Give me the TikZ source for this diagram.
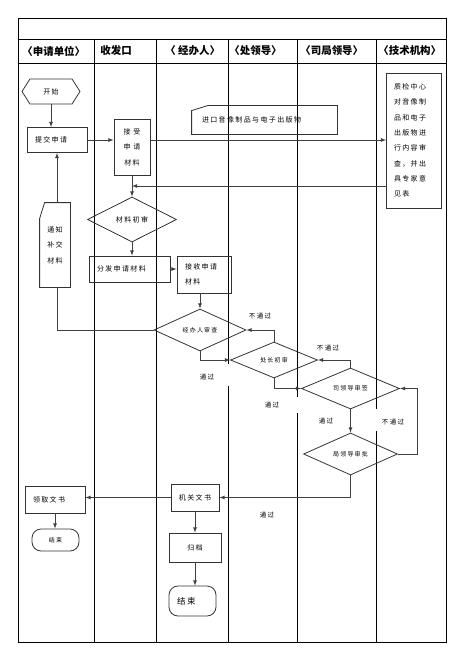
\documentclass[tikz,border=0pt]{standalone}
\usepackage{fontspec}
\usepackage{tikz}
\usetikzlibrary{calc}                      %allows coordinate calculations.
\usetikzlibrary{shapes.geometric}          %allows diamond nodes.
\usetikzlibrary{shapes.symbols}            %allows the signal (start) node.

\newfontfamily\cjk{Noto Sans CJK SC}
\newfontfamily\cjksp{Noto Sans CJK SC}[LetterSpace=20]

\begin{document}
\begin{tikzpicture}[x=1bp,y=-1bp,thick,>=latex,
  txt/.style={font=\cjksp\fontsize{7}{15.4}\selectfont},
  flowbox/.style={txt,draw=black!80,rectangle,inner sep=0pt},
  decide/.style={diamond,aspect=2.5,draw=black!80,inner sep=0pt,font=\cjksp\fontsize{6}{8}\selectfont},
  endbox/.style={txt,draw=black!80,rounded corners=9bp,inner sep=0pt},
  passlbl/.style={font=\cjksp\fontsize{6.5}{8}\selectfont,inner sep=1bp},
  lanehead/.style={font=\cjk\bfseries\fontsize{10.5}{12}\selectfont,anchor=west,inner sep=0pt}]

% Define frame and lane positions (pixels of the page).
\def\fl{18}      %Left edge of frame.
\def\fr{446}     %Right edge of frame.
\def\ft{18}      %Top edge of frame.
\def\fb{642}     %Bottom edge of frame.
\def\hy{39}      %Top of lane header row.
\def\by{63}      %Bottom of lane header row.

\useasboundingbox (0,0) rectangle (458,666);

% Frame, header rows and lanes.
\draw (\fl,\ft) rectangle (\fr,\fb);
\draw (\fl,\hy) -- (\fr,\hy);
\draw (\fl,\by) -- (\fr,\by);
\foreach \lx in {94,156}
  \draw (\lx,\hy) -- (\lx,\fb);
\draw (228,\hy) -- (228,364) (228,386) -- (228,\fb);
\draw (297,\hy) -- (297,397) (297,413) -- (297,\fb);
\draw (376,\hy) -- (376,409) (376,431) -- (376,\fb);

% Lane titles.
\node[lanehead] (hA) at (22,51) {〈申请单位〉};
\node[lanehead] (hB) at (100,51) {收发口};
\node[lanehead] (hC) at (165,51) {〈 经办人〉};
\node[lanehead] (hD) at (229,51) {〈处领导〉};
\node[lanehead] (hE) at (300,51) {〈司局领导〉};
\node[lanehead] (hF) at (378,51) {〈技术机构〉};

% Steps.
\node[signal,signal to=west and east,signal pointer angle=115,draw=black!80,minimum width=58bp,minimum height=25bp,inner sep=0pt,font=\cjksp\fontsize{7}{8}\selectfont] (start) at (51,91.5) {开始};
\node[flowbox,minimum width=60bp,minimum height=25bp,text width=44bp,inner xsep=8bp,align=left] (submit) at (57,140) {提交申请};
\node[flowbox,minimum width=36bp,minimum height=56bp,align=center] (accept) at (132,147) {接 受\\申 请\\材料};
\node[txt,minimum width=145bp,minimum height=28bp,text width=125bp,inner xsep=10bp,align=left] (import) at (264.5,120) {进口音像制品与电子出版物};
\draw[black!80] (import.south west) -- ($(import.north west)+(0,5)$) -- ($(import.north west)+(16,0)$) -- (import.north east) -- (import.south east) -- cycle;
\node[flowbox,minimum width=55bp,minimum height=135bp,text width=40bp,inner xsep=7bp,align=left] (review) at (414,140.5) {质检中心\\对音像制\\品和电子\\出版物进\\行内容审\\查，并出\\具专家意\\见表};
\node[decide,minimum width=89bp,minimum height=45bp,font=\cjksp\fontsize{7}{8}\selectfont] (firstcheck) at (132,219.5) {材料初审};
\node[flowbox,minimum width=81bp,minimum height=26bp,text width=65bp,inner xsep=8bp,align=left] (dispatch) at (129.5,269) {分发申请材料};
\node[flowbox,minimum width=54bp,minimum height=37bp,text width=38bp,inner xsep=8bp,align=left] (receive) at (204,274.5) {接收申请\\材料};
\node[txt,minimum width=30bp,minimum height=84bp,align=center] (notify) at (55,245) {通知\\补交\\材料};
\draw[black!80] (notify.south west) -- ($(notify.north west)+(0,16)$) -- ($(notify.north west)+(5,0)$) -- (notify.north east) -- (notify.south east) -- cycle;
\node[decide,minimum width=92bp,minimum height=42bp] (clerk) at (200,330) {经办人审查};
\node[decide,minimum width=87bp,minimum height=36bp] (division) at (274,360) {处长初审};
\node[decide,minimum width=98bp,minimum height=41bp] (dept) at (350.5,388.5) {司领导审签};
\node[decide,minimum width=94bp,minimum height=42bp] (bureau) at (350.5,454) {局领导审批};
\node[flowbox,minimum width=48bp,minimum height=27bp] (official) at (195,497.5) {机关文书};
\node[flowbox,minimum width=60bp,minimum height=27bp,text width=44bp,inner xsep=8bp,align=left] (collect) at (55,499.5) {领取文书};
\node[endbox,minimum width=47bp,minimum height=22bp,font=\cjksp\fontsize{6}{8}\selectfont] (endA) at (55.5,540) {结束};
\node[flowbox,minimum width=52bp,minimum height=29bp] (archive) at (195,547.5) {归档};
\node[endbox,minimum width=47bp,minimum height=30bp,text width=31bp,inner xsep=8bp,align=left,font=\cjksp\fontsize{8.5}{10}\selectfont] (endB) at (192.5,601) {结束};

% Decision labels.
\node[passlbl] (okA) at (207,377) {通过};
\node[passlbl] (noA) at (260,316) {不通过};
\node[passlbl] (okB) at (272,405) {通过};
\node[passlbl] (noB) at (328,348) {不通过};
\node[passlbl] (okC) at (326,421) {通过};
\node[passlbl] (noC) at (393,422) {不通过};
\node[passlbl] (okD) at (267,515) {通过};

% Connectors.
\coordinate (back) at (132,186);
\begin{scope}[black!75]
\draw[->] (start.south) -- (start.south |- submit.north);
\draw[->] (submit.east) -- (accept.west |- submit.east);
\draw[->] (accept.east |- submit.east) -- (review.west |- submit.east);
\draw[->] (review.west |- back) -- (back);
\draw[->] (accept.south) -- (firstcheck.north);
\draw[->] (firstcheck.south) -- (firstcheck.south |- dispatch.north);
\draw[->] (dispatch.east) -- (receive.west |- dispatch.east);
\draw[->] (clerk.north |- receive.south) -- (clerk.north);
\draw (clerk.west) -| (submit.south |- notify.south);
\draw[->] (submit.south |- notify.north) -- (submit.south);
\draw[->] (clerk.south) |- (division.west);
\draw[->] (division.north) |- (clerk.east);
\draw[->] (division.south) |- (dept.west);
\draw[->] (dept.north) |- (division.east);
\draw[->] (dept.south) -- (bureau.north);
\draw[->] (bureau.east) -- ++(19,0) |- (dept.east);
\draw[->] (bureau.south) |- (official.east);
\draw[->] (official.west) -- (collect.east |- official.west);
\draw[->] (collect.south) -- (collect.south |- endA.north);
\draw[->] (official.south) -- (archive.north);
\draw[->] (archive.south) -- (archive.south |- endB.north);
\end{scope}

\end{tikzpicture}
\end{document}
